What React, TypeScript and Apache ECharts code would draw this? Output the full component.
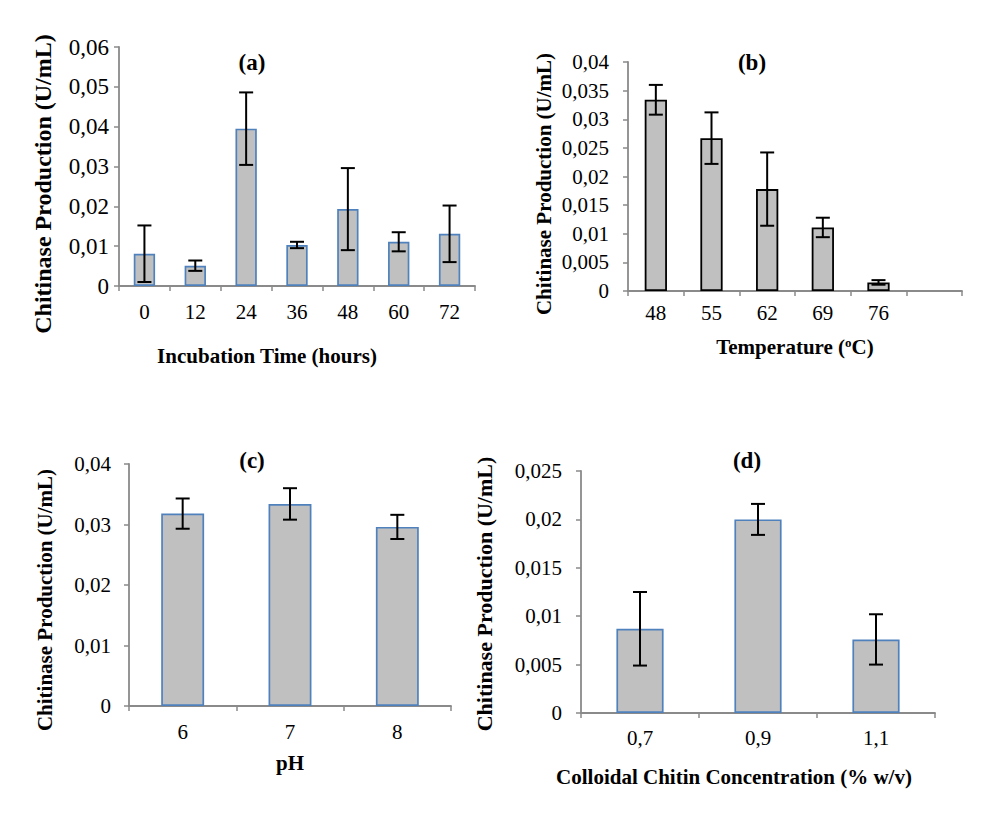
import React, { useEffect, useRef } from "react";
import * as echarts from "echarts";

// (a) incubation time
const timeHours = ["0", "12", "24", "36", "48", "60", "72"];
const timeActivity = [0.0081, 0.0051, 0.0395, 0.0103, 0.0193, 0.0111, 0.0131];
const timeError = [0.0071, 0.0013, 0.0091, 0.0008, 0.0103, 0.0024, 0.0071];

// (b) temperature (last slot left empty)
const tempCelsius = ["48", "55", "62", "69", "76", ""];
const tempActivity = [0.0334, 0.0267, 0.0178, 0.0111, 0.0015];
const tempError = [0.0026, 0.0045, 0.0064, 0.0017, 0.0004];

// (c) pH
const phLevels = ["6", "7", "8"];
const phActivity = [0.0318, 0.0334, 0.0296];
const phError = [0.0025, 0.0026, 0.002];

// (d) colloidal chitin concentration
const chitinConc = ["0,7", "0,9", "1,1"];
const chitinActivity = [0.0087, 0.02, 0.0076];
const chitinError = [0.0038, 0.0016, 0.0026];

const SERIF = "Liberation Serif, Times New Roman, serif";
const AXIS_GRAY = "#8a8a8a";
const BAR_GRAY = "#c0c0c0";
const BLUE_EDGE = "#4f81bd";
const TICK_FONT = 21;

const fmt = (v: number) => String(Number(v.toFixed(4))).replace(".", ",");

type Panel = {
  cats: string[];
  vals: number[];
  errs: number[];
  grid: { left: number; top: number; width: number; height: number };
  max: number;
  interval: number;
  yLabelMargin: number;
  yLabelSize: number;
  xLabelMargin: number;
  barWidth: string;
  edge: string;
  edgeWidth: number;
};

const panels: Panel[] = [
  {
    cats: timeHours, vals: timeActivity, errs: timeError,
    grid: { left: 119, top: 47, width: 356, height: 239 },
    max: 0.06, interval: 0.01, yLabelMargin: 10, yLabelSize: 23, xLabelMargin: 15,
    barWidth: "42%", edge: BLUE_EDGE, edgeWidth: 1.7,
  },
  {
    cats: tempCelsius, vals: tempActivity, errs: tempError,
    grid: { left: 628, top: 62, width: 334, height: 229 },
    max: 0.04, interval: 0.005, yLabelMargin: 19, yLabelSize: TICK_FONT, xLabelMargin: 11,
    barWidth: "40%", edge: "#000000", edgeWidth: 1.8,
  },
  {
    cats: phLevels, vals: phActivity, errs: phError,
    grid: { left: 129, top: 464, width: 322, height: 242 },
    max: 0.04, interval: 0.01, yLabelMargin: 18, yLabelSize: TICK_FONT, xLabelMargin: 15,
    barWidth: "40%", edge: BLUE_EDGE, edgeWidth: 1.7,
  },
  {
    cats: chitinConc, vals: chitinActivity, errs: chitinError,
    grid: { left: 581, top: 471, width: 354, height: 242 },
    max: 0.025, interval: 0.005, yLabelMargin: 19, yLabelSize: TICK_FONT, xLabelMargin: 14,
    barWidth: "40%", edge: BLUE_EDGE, edgeWidth: 1.7,
  },
];

const headings = [
  { text: "(a)", x: 252, y: 62 },
  { text: "(b)", x: 752, y: 62 },
  { text: "(c)", x: 252, y: 460 },
  { text: "(d)", x: 747, y: 460 },
];

const xTitles = [
  { text: "Incubation Time (hours)", x: 267, y: 356 },
  { text: "Temperature ({s|o}C)", x: 795, y: 347 },
  { text: "pH", x: 290, y: 763 },
  { text: "Colloidal Chitin Concentration (% w/v)", x: 734, y: 777 },
];

const yTitle = "Chitinase Production (U/mL)";
const yTitles = [
  { x: 43, y: 184, size: 24 },
  { x: 544, y: 184, size: 21 },
  { x: 45, y: 600, size: 21 },
  { x: 484, y: 594, size: 22 },
];

function errorBarRenderer(params: any, api: any) {
  const i = api.value(0);
  const v = api.value(1);
  const e = api.value(2);
  const hi = api.coord([i, v + e]);
  const lo = api.coord([i, v - e]);
  const cap = 7;
  const style = { stroke: "#000", lineWidth: 2 };
  return {
    type: "group",
    children: [
      { type: "line", shape: { x1: hi[0], y1: hi[1], x2: lo[0], y2: lo[1] }, style },
      { type: "line", shape: { x1: hi[0] - cap, y1: hi[1], x2: hi[0] + cap, y2: hi[1] }, style },
      { type: "line", shape: { x1: lo[0] - cap, y1: lo[1], x2: lo[0] + cap, y2: lo[1] }, style },
    ],
  };
}

export default function App() {
  const ref = useRef<HTMLDivElement>(null);

  useEffect(() => {
    if (!ref.current) return;
    const chart = echarts.init(ref.current, null, { renderer: "svg" });

    const grid = panels.map((p) => ({ ...p.grid, containLabel: false }));

    const xAxis = panels.map((p, k) => ({
      type: "category",
      gridIndex: k,
      data: p.cats,
      boundaryGap: true,
      axisLine: { show: true, lineStyle: { color: AXIS_GRAY, width: 1.8 } },
      axisTick: { show: true, length: 5, alignWithLabel: false, lineStyle: { color: AXIS_GRAY, width: 1.5 } },
      axisLabel: {
        interval: 0,
        margin: p.xLabelMargin,
        color: "#000",
        fontFamily: SERIF,
        fontSize: TICK_FONT,
        lineHeight: 22,
      },
      splitLine: { show: false },
    }));

    const yAxis = panels.map((p, k) => ({
      type: "value",
      gridIndex: k,
      min: 0,
      max: p.max,
      interval: p.interval,
      axisLine: { show: true, lineStyle: { color: AXIS_GRAY, width: 1.8 } },
      axisTick: { show: true, length: 5, lineStyle: { color: AXIS_GRAY, width: 1.5 } },
      axisLabel: {
        margin: p.yLabelMargin,
        color: "#000",
        fontFamily: SERIF,
        fontSize: p.yLabelSize,
        formatter: fmt,
      },
      splitLine: { show: false },
    }));

    const series: any[] = [];
    panels.forEach((p, k) => {
      series.push({
        type: "bar",
        xAxisIndex: k,
        yAxisIndex: k,
        data: p.vals,
        barWidth: p.barWidth,
        itemStyle: { color: BAR_GRAY, borderColor: p.edge, borderWidth: p.edgeWidth },
        silent: true,
      });
      series.push({
        type: "custom",
        xAxisIndex: k,
        yAxisIndex: k,
        data: p.vals.map((v, i) => [i, v, p.errs[i]]),
        renderItem: errorBarRenderer,
        z: 5,
        silent: true,
      });
    });

    const graphic: any[] = [];
    headings.forEach((h) =>
      graphic.push({
        type: "text",
        x: h.x,
        y: h.y,
        style: {
          text: h.text,
          fontFamily: SERIF,
          fontWeight: "bold",
          fontSize: 23,
          fill: "#000",
          align: "center",
          verticalAlign: "middle",
        },
      })
    );
    xTitles.forEach((t) =>
      graphic.push({
        type: "text",
        x: t.x,
        y: t.y,
        style: {
          text: t.text,
          fontFamily: SERIF,
          fontWeight: "bold",
          fontSize: 21,
          fill: "#000",
          align: "center",
          verticalAlign: "middle",
          rich: {
            s: {
              fontFamily: SERIF,
              fontWeight: "bold",
              fontSize: 13,
              fill: "#000",
              padding: [0, 0, 9, 0],
            },
          },
        },
      })
    );
    yTitles.forEach((t) =>
      graphic.push({
        type: "text",
        x: t.x,
        y: t.y,
        rotation: Math.PI / 2,
        style: {
          text: yTitle,
          fontFamily: SERIF,
          fontWeight: "bold",
          fontSize: t.size,
          fill: "#000",
          align: "center",
          verticalAlign: "middle",
        },
      })
    );

    chart.setOption({
      animation: false,
      backgroundColor: "#ffffff",
      grid,
      xAxis,
      yAxis,
      series,
      graphic,
    });

    return () => chart.dispose();
  }, []);

  return (
    <div
      ref={ref}
      style={{ position: "absolute", left: 0, top: 0, width: 985, height: 818 }}
    />
  );
}
